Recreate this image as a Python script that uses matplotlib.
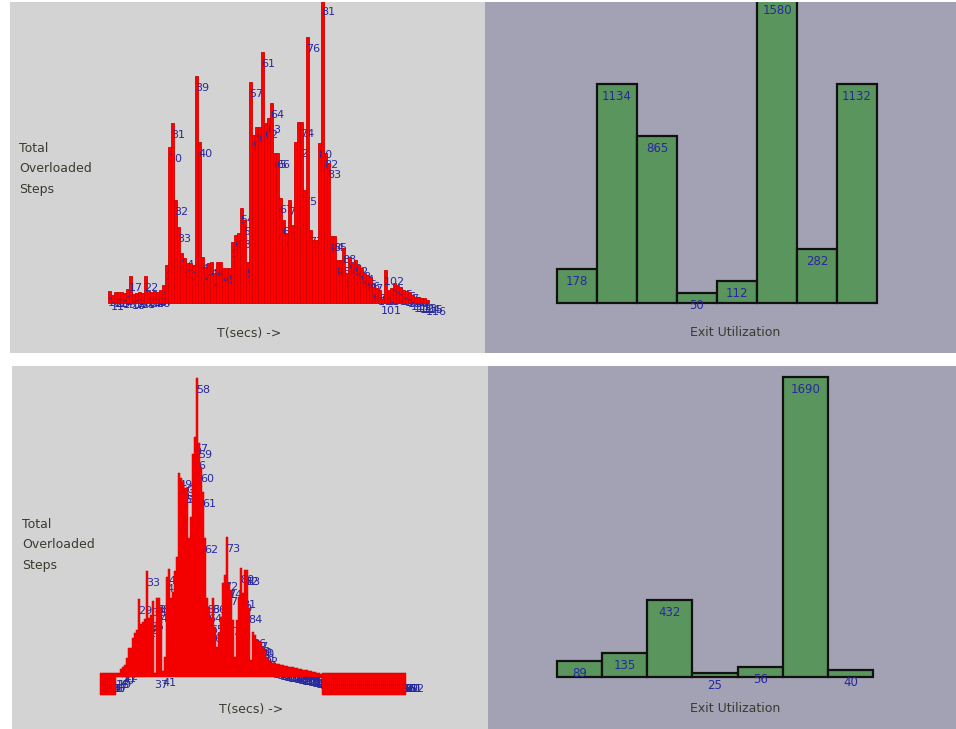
import numpy as np
import matplotlib
matplotlib.use("Agg")
import matplotlib.pyplot as plt
from matplotlib.patches import Rectangle

# ---------------- data ----------------
# top-left: total overloaded steps per time step (first step index = 10)
tl_start = 10
tl_steps = [12, 8, 11, 11, 11, 10, 14, 27, 9, 10,
            11, 10, 27, 12, 11, 12, 11, 13, 18, 38,
            156, 180, 103, 76, 50, 45, 40, 40, 38, 227,
            161, 46, 36, 40, 41, 30, 41, 41, 35, 35,
            35, 61, 68, 70, 95, 83, 41, 221, 168, 176,
            176, 251, 180, 185, 200, 150, 150, 105, 83, 70,
            103, 78, 161, 181, 181, 113, 266, 73, 63, 63,
            160, 303, 150, 140, 67, 67, 43, 43, 55, 30,
            46, 40, 43, 38, 35, 30, 28, 26, 16, 15,
            13, 4, 33, 13, 15, 20, 18, 16, 13, 12,
            11, 8, 6, 6, 5, 5, 3]

# bottom-left: total overloaded steps per time step (first step index = 10)
bl_start = 10
bl_steps = ([0, 0, 0, 0, 0, 0, 0, 0, 4, 4,
             8, 10, 12, 19, 29, 29, 39, 44, 47, 78,
             53, 55, 58, 106, 59, 62, 76, 4, 79, 79,
             70, 6, 20, 100, 108, 79, 85, 106, 120, 204,
             199, 195, 189, 189, 139, 160, 223, 240, 299, 234,
             210, 185, 139, 79, 70, 59, 79, 50, 30, 44,
             60, 94, 102, 140, 94, 87, 57, 20, 57, 80,
             109, 84, 107, 107, 69, 17, 45, 42, 37, 36,
             35, 30, 27, 20, 17, 15,
             14, 14, 13, 13, 12, 12, 11,
             11, 10, 10, 10, 9, 9,
             8, 8, 7, 7, 7, 6, 6,
             5, 5, 4, 4, 3]
            + [0] * 42)

# right charts: exit utilization
tr_exits = [178, 1134, 865, 50, 112, 1580, 282, 1132]
br_exits = [89, 135, 432, 25, 56, 1690, 40]

x_label = "T(secs) ->"
y_label_lines = ["Total", "Overloaded", "Steps"]
exit_label = "Exit Utilization"

# ---------------- style ----------------
W, H = 956, 729
GRAY = "#d3d3d3"
PURPLE = "#a3a2b5"
RED = "#ff0000"
DARKRED = "#d40000"
GREEN = "#59955d"
BLUE = "#28289e"
TEXT = "#3a3a30"
LABEL_DROP = 12      # label centre below bar top (px)
EMPTY_DEPTH = 18     # empty-step box below baseline (px)
EMPTY_RISE = 4

fig = plt.figure(figsize=(W / 100, H / 100), dpi=100)
fig.patch.set_facecolor("white")


def bg(x0, y0, x1, y1, color):
    fig.add_artist(Rectangle((x0 / W, 1 - y1 / H), (x1 - x0) / W, (y1 - y0) / H,
                             transform=fig.transFigure, facecolor=color,
                             edgecolor="none", zorder=0))


def px_axes(x0, y0, x1, y1):
    ax = fig.add_axes([x0 / W, 1 - y1 / H, (x1 - x0) / W, (y1 - y0) / H])
    ax.set_axis_off()
    return ax


bg(10, 2, 485, 353, GRAY)
bg(485, 2, 956, 353, PURPLE)
bg(12, 366, 488, 729, GRAY)
bg(488, 366, 956, 729, PURPLE)


def step_chart(box, base_px, first_px, step_px, start, values, lw):
    x0, y0, x1, y1 = box
    ax = px_axes(*box)
    left = start - (first_px - x0) / step_px
    ax.set_xlim(left, left + (x1 - x0) / step_px)
    ax.set_ylim(-(y1 - base_px), base_px - y0)
    vals = np.asarray(values, float)
    idx = np.arange(start, start + len(vals))
    heights = np.where(vals > 0, vals, EMPTY_DEPTH + EMPTY_RISE)
    bottoms = np.where(vals > 0, 0, -EMPTY_DEPTH)
    bars = ax.bar(idx, heights, bottom=bottoms, width=1.0, align="edge",
                  color=RED, edgecolor=DARKRED, linewidth=lw)
    for k, (rect, i, v) in enumerate(zip(bars, idx, vals)):
        rect.set_zorder(2 + 2 * k)
        ax.annotate(str(i), xy=(i, max(v, 0)), xytext=(0, -LABEL_DROP),
                    textcoords="offset pixels", ha="left", va="center",
                    fontsize=8, color=BLUE, zorder=3 + 2 * k,
                    annotation_clip=False)
    return ax


def exit_chart(box, base_px, first_px, bar_px, max_px, values):
    x0, y0, x1, y1 = box
    ax = px_axes(*box)
    left = -(first_px - x0) / bar_px
    ax.set_xlim(left, left + (x1 - x0) / bar_px)
    s = max_px / max(values)
    ax.set_ylim(-(y1 - base_px) / s, (base_px - y0) / s)
    idx = np.arange(len(values))
    ax.bar(idx, values, width=1.0, align="edge", color=GREEN,
           edgecolor="#111111", linewidth=1.6, zorder=2)
    for i, v in zip(idx, values):
        ax.annotate(str(v), xy=(i + 0.5, v), xytext=(0, -12.5),
                    textcoords="offset pixels", ha="center", va="center",
                    fontsize=8.5, color=BLUE, zorder=4, annotation_clip=False)
    return ax


step_chart((10, 2, 485, 353), 303, 108, 3, tl_start, tl_steps, 0.6)
step_chart((12, 366, 488, 729), 677, 100, 2, bl_start, bl_steps, 0.35)
exit_chart((485, 2, 956, 353), 303, 557, 40, 305, tr_exits)
exit_chart((488, 366, 956, 729), 677, 557, 45.14, 300, br_exits)


def ftext(x, y, s, **kw):
    fig.text(x / W, 1 - y / H, s, fontsize=9, color=TEXT, **kw)


ftext(249, 334, x_label, ha="center", va="center")
ftext(251, 709, x_label, ha="center", va="center")
ftext(735, 333, exit_label, ha="center", va="center")
ftext(735, 709, exit_label, ha="center", va="center")
for k, line in enumerate(y_label_lines):
    ftext(19, 149 + 20 * k, line, ha="left", va="center")
    ftext(22, 525 + 20 * k, line, ha="left", va="center")

fig.savefig("out.png", dpi=100)
